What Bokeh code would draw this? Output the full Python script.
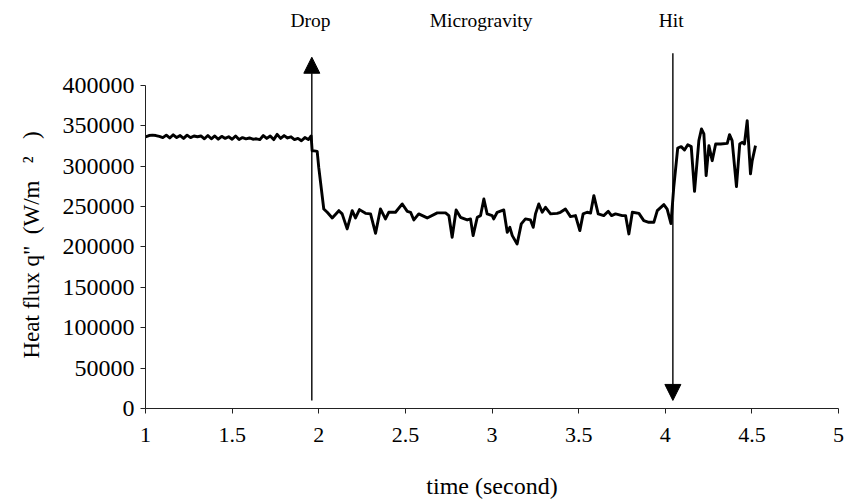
from bokeh.plotting import figure
from bokeh.models import (ColumnDataSource, Arrow, NormalHead, FixedTicker,
                          NumeralTickFormatter, Range1d, Title)
from bokeh.core.properties import value
from bokeh.embed import file_html
from bokeh.resources import INLINE

# ---- data ----
time = [
    1.00, 1.02, 1.04, 1.06, 1.08, 1.10, 1.12, 1.14, 1.16, 1.18,
    1.20, 1.22, 1.24, 1.26, 1.28, 1.30, 1.32, 1.34, 1.36, 1.38,
    1.40, 1.42, 1.44, 1.46, 1.48, 1.50, 1.52, 1.54, 1.56, 1.58,
    1.60, 1.62, 1.64, 1.66, 1.68, 1.70, 1.72, 1.74, 1.76, 1.78,
    1.80, 1.82, 1.84, 1.86, 1.88, 1.90, 1.92, 1.94, 1.956, 1.962,
    1.966, 1.991, 2.000, 2.029, 2.049, 2.078, 2.116, 2.135, 2.164, 2.193,
    2.212, 2.235, 2.270, 2.299, 2.328, 2.356, 2.385, 2.404, 2.443, 2.482,
    2.511, 2.530, 2.549, 2.577, 2.626, 2.684, 2.732, 2.751, 2.770, 2.793,
    2.818, 2.857, 2.876, 2.891, 2.915, 2.934, 2.953, 2.972, 3.001, 3.010,
    3.030, 3.068, 3.088, 3.103, 3.117, 3.145, 3.169, 3.193, 3.222, 3.238,
    3.251, 3.270, 3.290, 3.309, 3.338, 3.376, 3.395, 3.424, 3.453, 3.482,
    3.507, 3.526, 3.549, 3.569, 3.588, 3.613, 3.645, 3.671, 3.690, 3.713,
    3.752, 3.771, 3.790, 3.810, 3.848, 3.876, 3.905, 3.934, 3.954, 3.992,
    4.011, 4.033, 4.049, 4.072, 4.092, 4.111, 4.130, 4.150, 4.169, 4.194,
    4.209, 4.223, 4.236, 4.252, 4.271, 4.291, 4.320, 4.358, 4.371, 4.386,
    4.411, 4.430, 4.444, 4.457, 4.473, 4.492, 4.502, 4.521,
]
heat_flux = [
    336500, 338000, 338500, 338000, 337000, 335500, 338500, 335000, 339000, 335500,
    338000, 334500, 338500, 335500, 337500, 336500, 337500, 334000, 338000, 334000,
    337500, 333500, 337000, 334500, 336500, 333500, 337500, 333000, 335500, 334000,
    335000, 333500, 334000, 333000, 338000, 334500, 337500, 333000, 339500, 334500,
    338000, 335000, 336500, 333000, 334500, 331500, 335500, 333000, 337500, 319000,
    319300, 318400, 298600, 247100, 243000, 236000, 245000, 241000, 222400, 245000,
    236000, 246300, 241700, 241000, 217000, 247100, 234800, 243000, 243000, 253300,
    244200, 243000, 233500, 241000, 236000, 242200, 242200, 238900, 212000, 245900,
    236800, 233500, 234800, 214100, 236800, 238900, 259500, 241000, 238900, 234800,
    243000, 245900, 218200, 224400, 214100, 203800, 228600, 234800, 233500, 224400,
    241000, 253300, 243000, 249200, 241000, 241700, 243000, 247100, 237600, 238900,
    220300, 241000, 243000, 242000, 263600, 241000, 238900, 244200, 238900, 241000,
    238900, 238900, 216200, 243000, 241700, 232700, 230600, 230600, 245000, 252500,
    247000, 229000, 273900, 322600, 324300, 320200, 326700, 324300, 269000, 331700,
    346200, 340000, 288400, 325500, 306900, 327600, 327600, 328300, 339100, 331700,
    274800, 327600, 329600, 327600, 356400, 290500, 306900, 325500,
]

event_labels = ["Drop", "Microgravity", "Hit"]
event_label_x = [1.952, 2.937, 4.034]
event_label_y = [480000, 480000, 480000]

arrow_x = [1.96, 4.044]
arrow_y_start = [10000, 440000]
arrow_y_end = [435000, 10000]

x_ticks = [1, 1.5, 2, 2.5, 3, 3.5, 4, 4.5, 5]
y_ticks = [0, 50000, 100000, 150000, 200000, 250000, 300000, 350000, 400000]

NB = "\u00a0"
y_title = 'Heat flux q"' + NB * 2 + "(W/m" + NB * 3 + "²" + NB * 3 + ")"
x_title = "time (second)"

FONT = "Liberation Serif"

p = figure(width=847, height=502, output_backend="svg", toolbar_location=None,
           x_range=Range1d(1, 5), y_range=Range1d(0, 490400),
           min_border_left=145, min_border_right=9, min_border_top=12,
           min_border_bottom=94)
p.outline_line_color = None
p.grid.visible = False
p.background_fill_color = "white"
p.border_fill_color = "white"

src = ColumnDataSource(dict(t=time, q=heat_flux))
p.line("t", "q", source=src, line_color="black", line_width=2.9,
       line_join="round")

arr_src = ColumnDataSource(dict(x0=arrow_x, y0=arrow_y_start,
                                x1=arrow_x, y1=arrow_y_end))
p.add_layout(Arrow(source=arr_src, x_start="x0", y_start="y0",
                   x_end="x1", y_end="y1", line_color="black",
                   line_width=1.4,
                   end=NormalHead(size=16, fill_color="black",
                                  line_color="black", line_width=1)))

lab_src = ColumnDataSource(dict(x=event_label_x, y=event_label_y,
                                text=event_labels))
p.text("x", "y", text="text", source=lab_src, text_font=value(FONT),
       text_font_size="19.5px", text_align="center", text_baseline="middle",
       text_color="black")

# y-axis title as a side title so it can sit lower than the frame centre
p.add_layout(Title(text=y_title, align="left", offset=50, standoff=32,
                   text_font=FONT, text_font_size="23px",
                   text_font_style="normal", text_color="black"), "left")

xa = p.xaxis[0]
xa.ticker = FixedTicker(ticks=x_ticks)
xa.formatter = NumeralTickFormatter(format="0.[0]")
xa.bounds = (1, 5)
xa.axis_label = x_title
ya = p.yaxis[0]
ya.ticker = FixedTicker(ticks=y_ticks)
ya.formatter = NumeralTickFormatter(format="0")
ya.bounds = (0, 400000)

for ax in (xa, ya):
    ax.minor_tick_line_color = None
    ax.major_tick_in = 0
    ax.major_tick_out = 5
    ax.axis_line_color = "#222222"
    ax.major_tick_line_color = "#222222"
    ax.major_label_text_font = FONT
    ax.major_label_text_color = "black"
    ax.axis_label_text_font = FONT
    ax.axis_label_text_font_size = "24px"
    ax.axis_label_text_font_style = "normal"
    ax.axis_label_text_color = "black"

xa.major_label_text_font_size = "22px"
ya.major_label_text_font_size = "24px"
xa.major_label_standoff = 14
xa.axis_label_standoff = 28
ya.major_label_standoff = 6

open("out.html", "w").write(file_html(p, INLINE))
